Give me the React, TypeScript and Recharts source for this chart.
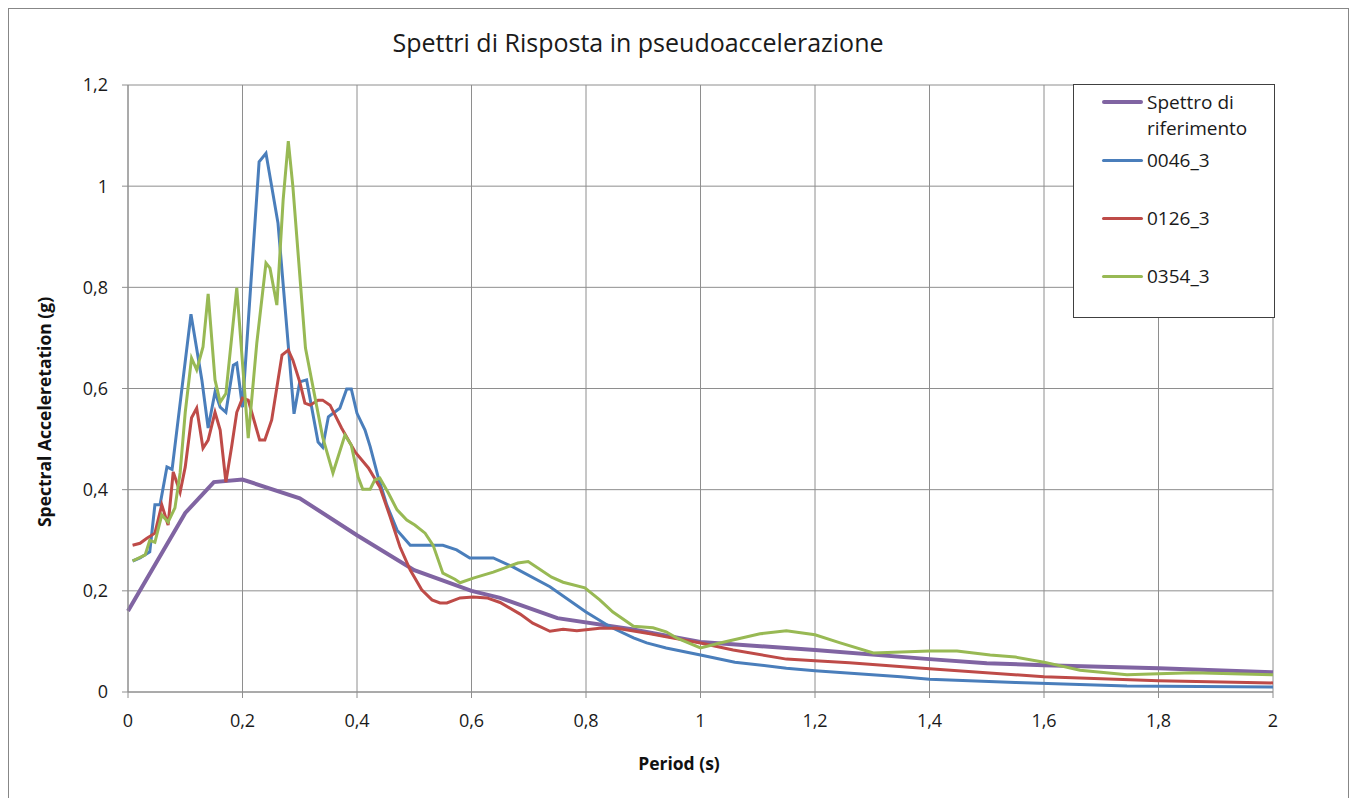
import React from 'react';
import { LineChart, Line, XAxis, YAxis, CartesianGrid } from 'recharts';

// ---- data (period s, spectral acceleration g) ----
const refT = [0, 0.1, 0.15, 0.2, 0.3, 0.4, 0.5, 0.6, 0.65, 0.75, 0.88, 1.0, 1.2, 1.4, 1.5, 1.6, 1.8, 2.0];
const refSa = [0.16, 0.354, 0.415, 0.42, 0.383, 0.31, 0.241, 0.2, 0.186, 0.146, 0.124, 0.099, 0.083, 0.065, 0.057, 0.053, 0.047, 0.039];

const s0046T = [0.008, 0.021, 0.038, 0.047, 0.056, 0.068, 0.077, 0.11, 0.129, 0.14, 0.152, 0.161, 0.171, 0.184, 0.19, 0.2, 0.229, 0.241, 0.262, 0.29, 0.3, 0.312, 0.332, 0.34, 0.35, 0.37, 0.382, 0.39, 0.4, 0.414, 0.423, 0.437, 0.452, 0.47, 0.493, 0.522, 0.55, 0.574, 0.597, 0.638, 0.673, 0.737, 0.8, 0.842, 0.883, 0.906, 0.94, 1.0, 1.06, 1.15, 1.2, 1.35, 1.4, 1.55, 1.745, 2.0];
const s0046Sa = [0.259, 0.265, 0.277, 0.37, 0.37, 0.445, 0.44, 0.747, 0.617, 0.522, 0.593, 0.563, 0.553, 0.646, 0.65, 0.563, 1.048, 1.065, 0.927, 0.55, 0.613, 0.617, 0.494, 0.484, 0.544, 0.561, 0.599, 0.599, 0.551, 0.518, 0.485, 0.425, 0.37, 0.32, 0.29, 0.29, 0.29, 0.281, 0.265, 0.265, 0.247, 0.208, 0.158, 0.129, 0.107, 0.097, 0.087, 0.073, 0.059, 0.047, 0.042, 0.03, 0.025, 0.019, 0.012, 0.01];

const s0126T = [0.008, 0.021, 0.033, 0.047, 0.059, 0.07, 0.079, 0.091, 0.1, 0.111, 0.12, 0.131, 0.14, 0.152, 0.161, 0.171, 0.181, 0.19, 0.2, 0.21, 0.23, 0.239, 0.251, 0.269, 0.28, 0.288, 0.3, 0.309, 0.318, 0.332, 0.34, 0.353, 0.373, 0.397, 0.42, 0.44, 0.458, 0.475, 0.493, 0.513, 0.531, 0.545, 0.557, 0.58, 0.603, 0.627, 0.65, 0.685, 0.707, 0.737, 0.76, 0.784, 0.824, 0.854, 0.912, 0.94, 1.0, 1.057, 1.15, 1.2, 1.26, 1.4, 1.6, 1.8, 2.0];
const s0126Sa = [0.29, 0.294, 0.304, 0.314, 0.37, 0.33, 0.435, 0.395, 0.445, 0.542, 0.561, 0.482, 0.498, 0.553, 0.518, 0.415, 0.485, 0.553, 0.581, 0.577, 0.498, 0.498, 0.538, 0.666, 0.676, 0.656, 0.613, 0.571, 0.567, 0.577, 0.577, 0.567, 0.522, 0.474, 0.443, 0.405, 0.346, 0.287, 0.241, 0.202, 0.182, 0.176, 0.176, 0.186, 0.188, 0.186, 0.177, 0.154, 0.136, 0.12, 0.124, 0.121, 0.126, 0.126, 0.115, 0.109, 0.097, 0.083, 0.065, 0.062, 0.058, 0.046, 0.03, 0.022, 0.018];

const s0354T = [0.008, 0.03, 0.038, 0.047, 0.059, 0.07, 0.082, 0.091, 0.1, 0.111, 0.12, 0.131, 0.14, 0.152, 0.161, 0.171, 0.19, 0.21, 0.225, 0.241, 0.248, 0.26, 0.271, 0.28, 0.288, 0.31, 0.34, 0.358, 0.379, 0.39, 0.402, 0.41, 0.423, 0.431, 0.44, 0.455, 0.47, 0.487, 0.501, 0.519, 0.533, 0.55, 0.571, 0.58, 0.603, 0.638, 0.662, 0.681, 0.699, 0.74, 0.76, 0.798, 0.824, 0.847, 0.883, 0.917, 0.94, 0.958, 1.0, 1.034, 1.104, 1.15, 1.2, 1.244, 1.302, 1.4, 1.448, 1.506, 1.55, 1.6, 1.663, 1.745, 1.8, 1.86, 2.0];
const s0354Sa = [0.259, 0.271, 0.3, 0.296, 0.35, 0.336, 0.364, 0.433, 0.553, 0.66, 0.637, 0.682, 0.787, 0.617, 0.573, 0.59, 0.799, 0.502, 0.69, 0.848, 0.838, 0.765, 0.973, 1.089, 0.999, 0.68, 0.504, 0.433, 0.508, 0.488, 0.425, 0.401, 0.401, 0.419, 0.423, 0.393, 0.36, 0.34, 0.33, 0.314, 0.29, 0.235, 0.223, 0.216, 0.225, 0.237, 0.247, 0.255, 0.258, 0.227, 0.217, 0.206, 0.182, 0.158, 0.13, 0.127, 0.119, 0.107, 0.087, 0.097, 0.115, 0.121, 0.113, 0.097, 0.077, 0.081, 0.081, 0.073, 0.069, 0.059, 0.043, 0.034, 0.036, 0.038, 0.034];

const xTicks = [0, 0.2, 0.4, 0.6, 0.8, 1, 1.2, 1.4, 1.6, 1.8, 2];
const yTicks = [0, 0.2, 0.4, 0.6, 0.8, 1, 1.2];

const title = 'Spettri di Risposta in pseudoaccelerazione';
const xTitle = 'Period (s)';
const yTitle = 'Spectral Acceleretation (g)';

const toPoints = (t: number[], s: number[]) => t.map((x, i) => ({ x, y: s[i] }));

const series = [
  { name: 'Spettro di riferimento', color: '#8064A2', width: 4, data: toPoints(refT, refSa) },
  { name: '0046_3', color: '#4A7EBB', width: 3, data: toPoints(s0046T, s0046Sa) },
  { name: '0126_3', color: '#BE4B48', width: 3, data: toPoints(s0126T, s0126Sa) },
  { name: '0354_3', color: '#98B954', width: 3, data: toPoints(s0354T, s0354Sa) },
];

const FONT = '"Open Sans", "Liberation Sans", sans-serif';
const fmt = (v: number) => String(v).replace('.', ',');
const GRID = '#8e8e8e';

export default function App() {
  return (
    <div
      style={{
        position: 'relative',
        width: 1341,
        height: 792,
        border: '1px solid #878787',
        boxSizing: 'border-box',
        background: '#fff',
        fontFamily: FONT,
      }}
    >
      <div
        style={{
          position: 'absolute',
          left: 329,
          width: 600,
          top: 16,
          textAlign: 'center',
          fontSize: 25,
          color: '#1a1a1a',
          lineHeight: '34px',
        }}
      >
        {title}
      </div>
      <div style={{ position: 'absolute', left: 0, top: 0 }}>
        <LineChart width={1339} height={788} margin={{ top: 76, right: 75, bottom: 75, left: 59 }}>
          <CartesianGrid stroke={GRID} strokeWidth={1} />
          <XAxis
            dataKey="x"
            type="number"
            domain={[0, 2]}
            ticks={xTicks}
            tickFormatter={fmt}
            allowDuplicatedCategory={false}
            height={30}
            stroke={GRID}
            tickSize={6}
            tickMargin={16}
            tick={{ fill: '#1a1a1a', fontSize: 18, fontFamily: FONT }}
            label={{
              content: () => (
                <text
                  x={670}
                  y={754}
                  textAnchor="middle"
                  dominantBaseline="central"
                  fontWeight="bold"
                  fontSize={17.5}
                  fontFamily={FONT}
                  fill="#111"
                >
                  {xTitle}
                </text>
              ),
            }}
          />
          <YAxis
            dataKey="y"
            type="number"
            domain={[0, 1.2]}
            ticks={yTicks}
            tickFormatter={fmt}
            width={60}
            stroke={GRID}
            tickSize={6}
            tickMargin={14}
            tick={{ fill: '#1a1a1a', fontSize: 18, fontFamily: FONT }}
            label={{
              content: () => {
                const cx = 35;
                const cy = 403;
                return (
                  <text
                    x={cx}
                    y={cy}
                    transform={`rotate(-90 ${cx} ${cy})`}
                    textAnchor="middle"
                    dominantBaseline="central"
                    fontWeight="bold"
                    fontSize={17.5}
                    fontFamily={FONT}
                    fill="#111"
                  >
                    {yTitle}
                  </text>
                );
              },
            }}
          />
          {series.map((s) => (
            <Line
              key={s.name}
              data={s.data}
              dataKey="y"
              name={s.name}
              type="linear"
              stroke={s.color}
              strokeWidth={s.width}
              dot={false}
              activeDot={false}
              isAnimationActive={false}
            />
          ))}
        </LineChart>
      </div>
      <div
        style={{
          position: 'absolute',
          left: 1064,
          top: 75,
          width: 202,
          height: 234,
          border: '1px solid #404040',
          boxSizing: 'border-box',
          background: '#fff',
          paddingTop: 4,
        }}
      >
        {series.map((s) => (
          <div key={s.name} style={{ height: 58, display: 'flex', alignItems: 'flex-start' }}>
            <div style={{ width: 28 }} />
            <div style={{ width: 41, height: 26, display: 'flex', alignItems: 'center' }}>
              <div style={{ width: 41, height: s.width, background: s.color, borderRadius: 2 }} />
            </div>
            <div
              style={{
                marginLeft: 4,
                width: 118,
                fontSize: 19,
                lineHeight: '26px',
                color: '#1a1a1a',
              }}
            >
              {s.name}
            </div>
          </div>
        ))}
      </div>
    </div>
  );
}
